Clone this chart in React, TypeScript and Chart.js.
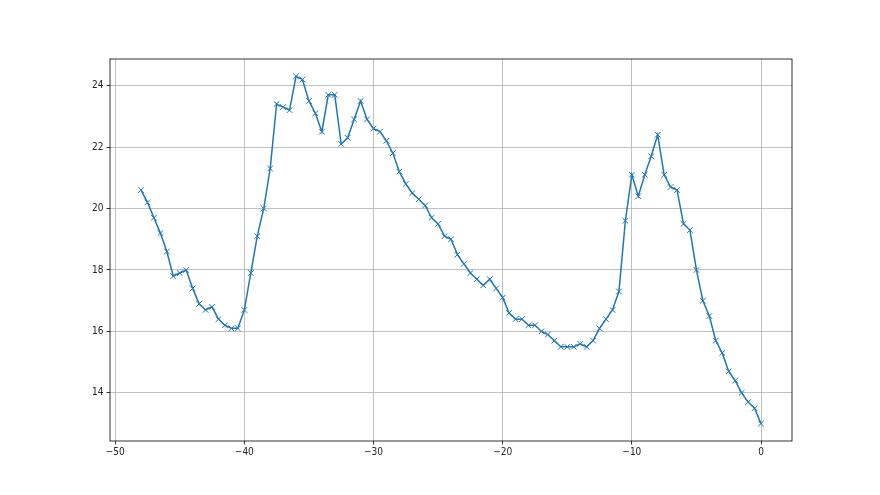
import React, { useEffect, useRef } from "react";
import { Chart, registerables } from "chart.js";

Chart.register(...registerables);

const xValues = [
  -48, -47.5, -47, -46.5, -46, -45.5, -45, -44.5, -44, -43.5, -43, -42.5, -42, -41.5, -41, -40.5,
  -40, -39.5, -39, -38.5, -38, -37.5, -37, -36.5, -36, -35.5, -35, -34.5, -34, -33.5, -33, -32.5,
  -32, -31.5, -31, -30.5, -30, -29.5, -29, -28.5, -28, -27.5, -27, -26.5, -26, -25.5, -25, -24.5,
  -24, -23.5, -23, -22.5, -22, -21.5, -21, -20.5, -20, -19.5, -19, -18.5, -18, -17.5, -17, -16.5,
  -16, -15.5, -15, -14.5, -14, -13.5, -13, -12.5, -12, -11.5, -11, -10.5, -10, -9.5, -9, -8.5,
  -8, -7.5, -7, -6.5, -6, -5.5, -5, -4.5, -4, -3.5, -3, -2.5, -2, -1.5, -1, -0.5, 0,
];

const yValues = [
  20.6, 20.2, 19.7, 19.2, 18.6, 17.8, 17.9, 18.0, 17.4, 16.9, 16.7, 16.8, 16.4, 16.2, 16.1, 16.1,
  16.7, 17.9, 19.1, 20.0, 21.3, 23.4, 23.3, 23.2, 24.3, 24.2, 23.5, 23.1, 22.5, 23.7, 23.7, 22.1,
  22.3, 22.9, 23.5, 22.9, 22.6, 22.5, 22.2, 21.8, 21.2, 20.8, 20.5, 20.3, 20.1, 19.7, 19.5, 19.1,
  19.0, 18.5, 18.2, 17.9, 17.7, 17.5, 17.7, 17.4, 17.1, 16.6, 16.4, 16.4, 16.2, 16.2, 16.0, 15.9,
  15.7, 15.5, 15.5, 15.5, 15.6, 15.5, 15.7, 16.1, 16.4, 16.7, 17.3, 19.6, 21.1, 20.4, 21.1, 21.7,
  22.4, 21.1, 20.7, 20.6, 19.5, 19.3, 18.0, 17.0, 16.5, 15.7, 15.3, 14.7, 14.4, 14.0, 13.7, 13.5, 13.0,
];

const xTicks = [-50, -40, -30, -20, -10, 0];
const yTicks = [14, 16, 18, 20, 22, 24];

const fmt = (v: number) => (v < 0 ? "\u2212" + Math.abs(v) : String(v));

const tickFont = { family: "'Liberation Sans Narrow', 'DejaVu Sans Condensed', 'DejaVu Sans', sans-serif", size: 10 };

const boxPlugin = {
  id: "boxPlugin",
  afterDatasetsDraw(chart: any) {
    const { ctx, chartArea } = chart;
    ctx.save();
    ctx.strokeStyle = "#000";
    ctx.lineWidth = 0.8;
    ctx.strokeRect(chartArea.left, chartArea.top, chartArea.right - chartArea.left, chartArea.bottom - chartArea.top);
    ctx.restore();
  },
};

export default function App() {
  const ref = useRef<HTMLCanvasElement | null>(null);
  useEffect(() => {
    document.body.style.margin = "0";
    const canvas = ref.current;
    if (!canvas) return;
    const chart = new Chart(canvas, {
      type: "line",
      data: {
        datasets: [
          {
            data: xValues.map((x, i) => ({ x, y: yValues[i] })),
            borderColor: "#1f77b4",
            backgroundColor: "#1f77b4",
            borderWidth: 1.5,
            pointStyle: "crossRot",
            pointRadius: 4,
            pointBorderWidth: 1,
            pointBorderColor: "#1f77b4",
            pointHoverRadius: 4,
            tension: 0,
            fill: false,
          },
        ],
      },
      options: {
        responsive: false,
        animation: false,
        devicePixelRatio: 1,
        events: [],
        layout: { padding: { left: 70, right: 88, top: 59, bottom: 24 } },
        plugins: { legend: { display: false }, tooltip: { enabled: false } },
        scales: {
          x: {
            type: "linear",
            min: -50.4,
            max: 2.4,
            afterBuildTicks: (s: any) => {
              s.ticks = xTicks.map((v) => ({ value: v }));
            },
            afterFit: (s: any) => {
              s.height = 30;
            },
            border: { display: false },
            grid: {
              color: "#b0b0b0",
              lineWidth: 0.8,
              drawTicks: true,
              tickLength: 3.5,
              tickColor: "#000",
              tickWidth: 0.8,
            },
            ticks: {
              color: "#222",
              font: tickFont,
              padding: 2,
              maxRotation: 0,
              autoSkip: false,
              callback: (v: any) => fmt(Number(v)),
            },
          },
          y: {
            type: "linear",
            min: 12.435,
            max: 24.865,
            afterBuildTicks: (s: any) => {
              s.ticks = yTicks.map((v) => ({ value: v }));
            },
            afterFit: (s: any) => {
              s.width = 40;
            },
            border: { display: false },
            grid: {
              color: "#b0b0b0",
              lineWidth: 0.8,
              drawTicks: true,
              tickLength: 3.5,
              tickColor: "#000",
              tickWidth: 0.8,
            },
            ticks: {
              color: "#222",
              font: tickFont,
              padding: 3,
              autoSkip: false,
              callback: (v: any) => fmt(Number(v)),
            },
          },
        },
      },
      plugins: [boxPlugin],
    });
    return () => chart.destroy();
  }, []);
  return (
    <div style={{ width: 880, height: 495, background: "#fff" }}>
      <canvas ref={ref} width={880} height={495} style={{ display: "block" }} />
    </div>
  );
}
